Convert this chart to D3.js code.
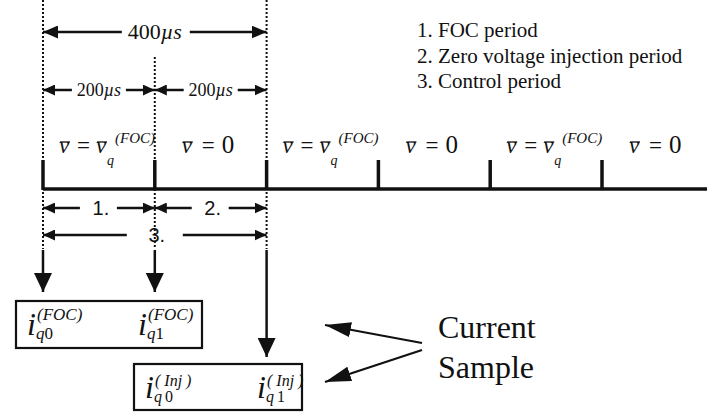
<!DOCTYPE html>
<html>
<head>
<meta charset="utf-8">
<script src="https://cdn.jsdelivr.net/npm/d3@7"></script>
<style>
  body { margin: 0; background: #fff; }
  svg { display: block; font-family: "Liberation Serif", Tinos, "Times New Roman", Times, "Noto Serif", "DejaVu Serif", serif; }
  svg text { fill: #111; }
  svg text.sans { font-family: "Liberation Sans", Arimo, Arial, sans-serif; }
</style>
</head>
<body>
<svg width="707" height="412"></svg>
<script>
const width = 707;
const height = 412;

// time axis (µs)
const tickTimes = [0, 200, 400, 600, 800, 1000];
const segmentVoltage = ["FOC", "0", "FOC", "0", "FOC", "0"];

// dimension arrows above the axis
const spans = [
  { from: 0, to: 400, label: "400" },
  { from: 0, to: 200, label: "200" },
  { from: 200, to: 400, label: "200" }
];

// period arrows under the axis
const periods = [
  { from: 0, to: 200, label: "1." },
  { from: 200, to: 400, label: "2." },
  { from: 0, to: 400, label: "3." }
];

const legendItems = ["1. FOC period", "2. Zero voltage injection period", "3. Control period"];

const focSamples = [0, 200];
const injSamples = [400];
const focBoxLabels = ["0", "1"];
const injBoxLabels = ["0", "1"];
const sampleText = ["Current", "Sample"];

const svg = d3.select("svg");
const ink = "#111";

const x = d3.scaleLinear().domain([0, 1000]).range([43, 602]);

const defs = svg.append("defs");
function marker(id, len, wid) {
  defs.append("marker")
    .attr("id", id)
    .attr("markerUnits", "userSpaceOnUse")
    .attr("markerWidth", len)
    .attr("markerHeight", wid)
    .attr("refX", len)
    .attr("refY", wid / 2)
    .attr("orient", "auto-start-reverse")
    .append("path")
    .attr("d", `M0,0 L${len},${wid / 2} L0,${wid} Z`)
    .attr("fill", ink);
}
marker("big", 15, 13);
marker("mid", 12, 11);
marker("down", 19, 18);
marker("pt", 26, 15);

// dotted guide lines
const guides = [
  { t: 0, y1: 0 },
  { t: 200, y1: 57 },
  { t: 400, y1: 0 }
];
svg.selectAll(".guide").data(guides).join("line")
  .attr("class", "guide")
  .attr("x1", d => x(d.t)).attr("x2", d => x(d.t))
  .attr("y1", d => d.y1).attr("y2", 249)
  .attr("stroke", ink)
  .attr("stroke-width", 2)
  .attr("stroke-dasharray", "2,2");

function put(g, tx, ty, size, italic, str) {
  return g.append("text").attr("x", tx).attr("y", ty)
    .attr("font-size", size)
    .attr("font-style", italic ? "italic" : "normal")
    .text(str);
}

// double arrows with a gap for the label
function gapArrow(d, y, gapL, gapR, mk, w) {
  const g = svg.append("g");
  const a = x(d.from), b = x(d.to);
  const mid = (a + b) / 2;
  g.append("line").attr("x1", mid - gapL).attr("x2", a).attr("y1", y).attr("y2", y)
    .attr("stroke", ink).attr("stroke-width", w).attr("marker-end", `url(#${mk})`);
  g.append("line").attr("x1", mid + gapR).attr("x2", b).attr("y1", y).attr("y2", y)
    .attr("stroke", ink).attr("stroke-width", w).attr("marker-end", `url(#${mk})`);
  return { g, mid };
}

spans.forEach((d, i) => {
  const big = i === 0;
  const y = big ? 32 : 90;
  const { g, mid } = gapArrow(d, y, big ? 33 : 27, big ? 35 : 27, big ? "big" : "mid", 2.5);
  const t = put(g, mid, y + (big ? 7 : 6), big ? 22 : 18, false, null)
    .attr("text-anchor", "middle");
  t.append("tspan").text(d.label);
  t.append("tspan").attr("font-style", "italic").text("µs");
});

periods.forEach((d, i) => {
  const y = i < 2 ? 208 : 235;
  const gap = i < 2 ? [19, 18] : [28, 28];
  const { g, mid } = gapArrow(d, y, gap[0], gap[1], "mid", 2.5);
  put(g, mid + 2, y + 7, 20, false, d.label)
    .attr("class", "sans")
    .attr("text-anchor", "middle");
});

// time axis
svg.append("line")
  .attr("x1", x(0)).attr("x2", width)
  .attr("y1", 189).attr("y2", 189)
  .attr("stroke", ink).attr("stroke-width", 3.5);

svg.selectAll(".tick").data(tickTimes).join("line")
  .attr("class", "tick")
  .attr("x1", d => x(d)).attr("x2", d => x(d))
  .attr("y1", 160).attr("y2", 190)
  .attr("stroke", ink).attr("stroke-width", 3.5);

// voltage labels per segment
function vbar(g, x0, y) {
  g.append("line").attr("x1", x0 + 1).attr("x2", x0 + 11)
    .attr("y1", y).attr("y2", y)
    .attr("stroke", ink).attr("stroke-width", 1.3);
}
segmentVoltage.forEach((v, i) => {
  const s = x(tickTimes[i]);
  const g = svg.append("g");
  const base = 153;
  if (v === "FOC") {
    const x0 = s + 16;
    put(g, x0, base, 23, true, "v");
    vbar(g, x0, 142);
    put(g, x0 + 18, base, 23, false, "=");
    put(g, x0 + 37, base, 23, true, "v");
    vbar(g, x0 + 37, 142);
    put(g, x0 + 48, 165, 14, true, "q");
    put(g, x0 + 56, 143, 15, true, "(FOC)");
  } else {
    const x0 = s + 27;
    put(g, x0, base, 23, true, "v");
    vbar(g, x0, 142);
    put(g, x0 + 20, base, 23, false, "=");
    put(g, x0 + 40, base, 25, false, v);
  }
});

// legend
const legendG = svg.append("g");
legendItems.forEach((d, i) => put(legendG, 417, 37 + i * 25.5, 21, false, d));

// sample arrows
svg.selectAll(".focArrow").data(focSamples).join("line")
  .attr("class", "focArrow")
  .attr("x1", d => x(d)).attr("x2", d => x(d))
  .attr("y1", 250).attr("y2", 292)
  .attr("stroke", ink).attr("stroke-width", 2.5)
  .attr("marker-end", "url(#down)");

svg.selectAll(".injArrow").data(injSamples).join("line")
  .attr("class", "injArrow")
  .attr("x1", d => x(d)).attr("x2", d => x(d))
  .attr("y1", 250).attr("y2", 357)
  .attr("stroke", ink).attr("stroke-width", 2.5)
  .attr("marker-end", "url(#down)");

// sample boxes
function sampleBox(bx, by, bw, bh, sup, subs, supY, iY, subY, step, sizes) {
  const g = svg.append("g");
  g.append("rect").attr("x", bx).attr("y", by).attr("width", bw).attr("height", bh)
    .attr("fill", "none").attr("stroke", ink).attr("stroke-width", 2.2);
  subs.forEach((s, i) => {
    const ix = bx + 11 + i * step;
    put(g, ix, iY, 32, true, "i");
    put(g, ix + 10, supY, sizes, true, sup);
    const st = put(g, ix + 9, subY, sizes, true, "q");
    st.append("tspan").attr("font-style", "normal").attr("dx", sup.length > 5 ? 3 : 0).text(s);
  });
}
sampleBox(16, 301, 186, 47, "(FOC)", focBoxLabels, 320, 335, 339, 111, 17);
sampleBox(134, 364, 168, 46, "( Inj )", injBoxLabels, 386, 398, 402, 112, 16);

// current sample callout
const calloutG = svg.append("g");
sampleText.forEach((d, i) => put(calloutG, 438, 338 + i * 40, 32, false, d));

svg.append("line").attr("x1", 422).attr("y1", 343).attr("x2", 325).attr("y2", 325)
  .attr("stroke", ink).attr("stroke-width", 2.2).attr("marker-end", "url(#pt)");
svg.append("line").attr("x1", 422).attr("y1", 350).attr("x2", 325).attr("y2", 382)
  .attr("stroke", ink).attr("stroke-width", 2.2).attr("marker-end", "url(#pt)");
</script>
</body>
</html>
